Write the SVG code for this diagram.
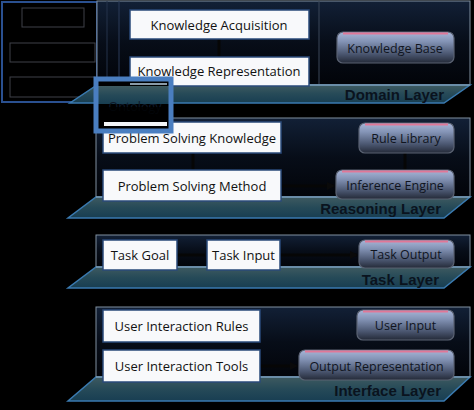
<svg xmlns="http://www.w3.org/2000/svg" width="474" height="410" viewBox="0 0 474 410">
<defs>
<linearGradient id="panel" x1="0" y1="0" x2="0" y2="1">
<stop offset="0" stop-color="#122036"/>
<stop offset="0.5" stop-color="#070d18"/>
<stop offset="1" stop-color="#020409"/>
</linearGradient>
<linearGradient id="floor" x1="0" y1="0" x2="0" y2="1">
<stop offset="0" stop-color="#3e5a60"/>
<stop offset="0.5" stop-color="#264a58"/>
<stop offset="1" stop-color="#183e52"/>
</linearGradient>
<linearGradient id="btn" x1="0" y1="0" x2="0" y2="1">
<stop offset="0" stop-color="#a8b6d8"/>
<stop offset="0.3" stop-color="#8494b6"/>
<stop offset="0.7" stop-color="#4c5872"/>
<stop offset="1" stop-color="#242a38"/>
</linearGradient>
<marker id="arr" markerWidth="8" markerHeight="8" refX="7" refY="4" orient="auto" markerUnits="userSpaceOnUse">
<path d="M0,0 L8,4 L0,8 Z" fill="#0a0a0a"/>
</marker>
<style>
.panel{fill:url(#panel);stroke:#8090a0;stroke-width:1}
.floor{fill:url(#floor);stroke:#3a7ab0;stroke-width:1.5}
.floortop{stroke:#9aacb4;stroke-width:1}
.lay{font-family:"Liberation Sans",Arial,sans-serif;font-weight:bold;font-size:15px;fill:#0a131e;text-anchor:end}
.wbox{fill:#f8f9fb;stroke:#2a4a7a;stroke-width:1.5}
.wt{font-family:"Open Sans","Liberation Sans",sans-serif;font-size:13px;fill:#111;text-anchor:middle;dominant-baseline:central}
.btn{fill:url(#btn);stroke:#5a6272;stroke-width:1.2}
.shine{stroke:#e07898;stroke-width:1.8;fill:none}
.bt{font-family:"Open Sans","Liberation Sans",sans-serif;font-size:12.5px;fill:#10151f;text-anchor:middle;dominant-baseline:central}
.con{stroke:#060606;stroke-width:3;fill:none}
.faint{fill:none;stroke:#3e4048;stroke-width:1}
</style>
</defs>
<rect x="0" y="0" width="474" height="410" fill="#000"/>

<g id="left-panel">
<rect x="2" y="2" width="95" height="100" fill="#000" stroke="#2a5090" stroke-width="2"/>
<rect class="faint" x="22" y="8" width="62" height="19"/>
<rect class="faint" x="10" y="43" width="85" height="19"/>
<rect class="faint" x="10" y="77" width="85" height="20"/>
</g>

<g id="domain-layer">
<rect class="panel" x="97" y="1" width="373" height="84"/>
<line x1="107" y1="1" x2="107" y2="84" stroke="#24324a" stroke-width="1"/>
<line x1="119" y1="1" x2="119" y2="84" stroke="#2a3a58" stroke-width="1"/>
<line x1="319" y1="1" x2="319" y2="84" stroke="#3a4658" stroke-width="1"/>
<polygon class="floor" points="97,85 470,85 444,103 70,103"/>
<line class="floortop" x1="97" y1="85" x2="470" y2="85"/>
<text class="lay" x="444" y="100">Domain Layer</text>
</g>

<g id="reasoning-layer">
<rect class="panel" x="96" y="118" width="374" height="79"/>
<polygon class="floor" points="96,197 470,197 444,218 68,218"/>
<line class="floortop" x1="96" y1="197" x2="470" y2="197"/>
<text class="lay" x="441" y="214">Reasoning Layer</text>
</g>

<g id="task-layer">
<rect class="panel" x="96" y="235" width="374" height="32"/>
<polygon class="floor" points="96,267 470,267 444,288 68,288"/>
<line class="floortop" x1="96" y1="267" x2="470" y2="267"/>
<text class="lay" x="439" y="285">Task Layer</text>
</g>

<g id="interface-layer">
<rect class="panel" x="96" y="307" width="374" height="70"/>
<polygon class="floor" points="96,377 470,377 444,401 68,401"/>
<line class="floortop" x1="96" y1="377" x2="470" y2="377"/>
<text class="lay" x="441" y="396">Interface Layer</text>
</g>

<g id="connectors">
<line class="con" x1="219" y1="39" x2="219" y2="57"/>
<line class="con" x1="193" y1="153" x2="193" y2="170"/>
<line class="con" x1="405" y1="153" x2="405" y2="170"/>
<line class="con" x1="281" y1="186" x2="334" y2="186" marker-end="url(#arr)"/>
<line class="con" x1="177" y1="255" x2="205" y2="255"/>
<line class="con" x1="280" y1="255" x2="357" y2="255" marker-end="url(#arr)"/>
<line class="con" x1="260" y1="366" x2="297" y2="366" marker-end="url(#arr)"/>
</g>

<g id="knowledge-acquisition">
<rect class="wbox" x="130" y="10" width="179" height="29"/>
<text class="wt" x="219" y="24.5">Knowledge Acquisition</text>
</g>
<g id="knowledge-representation">
<rect class="wbox" x="130" y="57" width="179" height="29"/>
<text class="wt" x="219" y="71">Knowledge Representation</text>
</g>
<g id="knowledge-base">
<rect class="btn" x="337" y="32" width="117" height="31" rx="6"/>
<path class="shine" d="M343,33.5 H448"/>
<text class="bt" x="395" y="48">Knowledge Base</text>
</g>

<g id="problem-solving-knowledge">
<rect class="wbox" x="103" y="122" width="178" height="31"/>
<text class="wt" x="192" y="138">Problem Solving Knowledge</text>
</g>
<g id="problem-solving-method">
<rect class="wbox" x="103" y="170" width="178" height="31"/>
<text class="wt" x="192" y="185.5">Problem Solving Method</text>
</g>
<g id="rule-library">
<rect class="btn" x="359" y="123" width="95" height="30" rx="6"/>
<path class="shine" d="M365,124.5 H448"/>
<text class="bt" x="406" y="138">Rule Library</text>
</g>
<g id="inference-engine">
<rect class="btn" x="336" y="170" width="118" height="29" rx="6"/>
<path class="shine" d="M342,171.5 H448"/>
<text class="bt" x="395" y="185">Inference Engine</text>
</g>

<g id="task-goal">
<rect class="wbox" x="103" y="240" width="74" height="30"/>
<text class="wt" x="140" y="255">Task Goal</text>
</g>
<g id="task-input">
<rect class="wbox" x="207" y="240" width="73" height="30"/>
<text class="wt" x="243.5" y="255">Task Input</text>
</g>
<g id="task-output">
<rect class="btn" x="359" y="240" width="95" height="28" rx="6"/>
<path class="shine" d="M365,241.5 H448"/>
<text class="bt" x="406" y="254.5">Task Output</text>
</g>

<g id="user-interaction-rules">
<rect class="wbox" x="103" y="310" width="157" height="32"/>
<text class="wt" x="181.5" y="326">User Interaction Rules</text>
</g>
<g id="user-interaction-tools">
<rect class="wbox" x="103" y="350" width="157" height="32"/>
<text class="wt" x="181.5" y="366">User Interaction Tools</text>
</g>
<g id="user-input">
<rect class="btn" x="357" y="310" width="97" height="30" rx="6"/>
<path class="shine" d="M363,311.5 H448"/>
<text class="bt" x="405.5" y="325.5">User Input</text>
</g>
<g id="output-representation">
<rect class="btn" x="299" y="350" width="155" height="30" rx="6"/>
<path class="shine" d="M305,351.5 H448"/>
<text class="bt" x="376.5" y="366">Output Representation</text>
</g>

<g id="ontology">
<rect x="98" y="81" width="72" height="48" fill="#000"/>
<polygon points="98,86 170,86 170,104 98,104" fill="url(#floor)"/>
<rect x="130" y="83" width="37" height="2" fill="#8a9aa8"/>
<text x="135" y="111" font-family="'Open Sans','Liberation Sans',sans-serif" font-size="12.5" fill="#0e1a2a" text-anchor="middle">Ontology</text>
<rect x="98" y="107" width="72" height="13" fill="#000" opacity="0.8"/>
<rect x="104" y="122" width="63" height="4" fill="#f4f6f8"/>
<rect x="96" y="79" width="75" height="52" fill="none" stroke="#4a7ec0" stroke-width="5"/>
</g>
</svg>
